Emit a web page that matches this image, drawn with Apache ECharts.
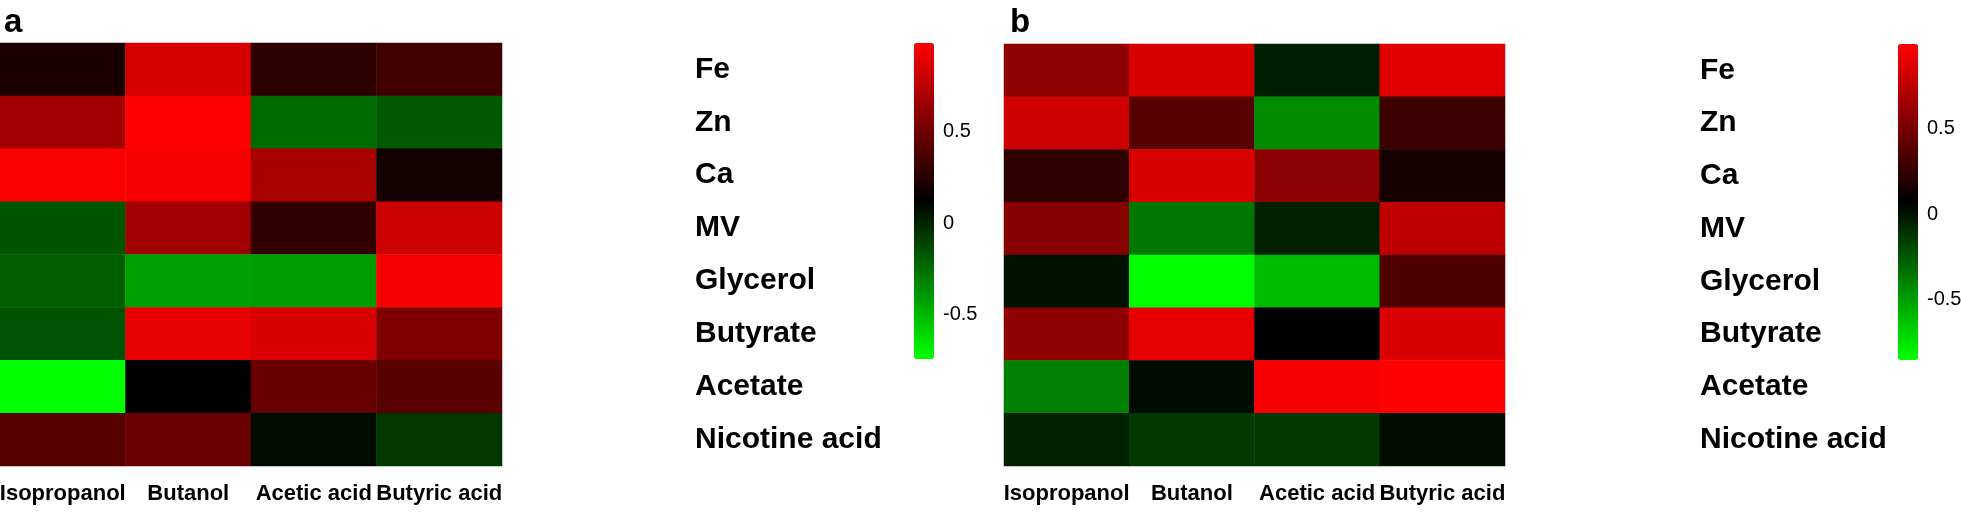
<!DOCTYPE html>
<html>
<head>
<meta charset="utf-8">
<script src="https://cdn.jsdelivr.net/npm/echarts@6/dist/echarts.min.js"></script>
<style>
html,body{margin:0;padding:0;background:#fff;}
#chart{width:1961px;height:516px;}
</style>
</head>
<body>
<div id="chart"></div>
<script>
const columns = ['Isopropanol', 'Butanol', 'Acetic acid', 'Butyric acid'];
const rows = ['Fe', 'Zn', 'Ca', 'MV', 'Glycerol', 'Butyrate', 'Acetate', 'Nicotine acid'];
const colorbarTicks = [-0.5, 0, 0.5];

// panel a: one row per metabolite, values per column
const panelA = [
  [0.21, 0.84, 0.27, 0.34],
  [0.66, 0.98, -0.24, -0.18],
  [0.97, 0.96, 0.69, 0.19],
  [-0.17, 0.66, 0.29, 0.81],
  [-0.20, -0.42, -0.41, 0.95],
  [-0.16, 0.90, 0.85, 0.55],
  [-0.74, 0.12, 0.47, 0.42],
  [0.41, 0.48, 0.08, -0.07]
];
const panelARange = [-0.74, 0.98];

// panel b
const panelB = [
  [0.59, 0.86, -0.04, 0.88],
  [0.82, 0.38, -0.43, 0.29],
  [0.24, 0.85, 0.57, 0.15],
  [0.55, -0.36, -0.05, 0.76],
  [0.00, -0.85, -0.61, 0.36],
  [0.59, 0.90, 0.07, 0.85],
  [-0.39, 0.03, 0.97, 0.99],
  [-0.05, -0.14, -0.14, 0.02]
];
const panelBRange = [-0.85, 0.99];

const rampColors = ['#00ff00', '#000000', '#ff0000'];

function toCells(matrix) {
  const out = [];
  matrix.forEach((r, yi) => r.forEach((v, xi) => out.push([xi, yi, v])));
  return out;
}

const sans = "'Liberation Sans', Arial, sans-serif";

function catX(gridIndex) {
  return {
    type: 'category', gridIndex, data: columns,
    axisLine: {show: false}, axisTick: {show: false}, splitLine: {show: false},
    axisLabel: {color: '#000', fontFamily: sans, fontWeight: 'bold', fontSize: 22, margin: 17, interval: 0, hideOverlap: false}
  };
}
function catY(gridIndex, margin) {
  return {
    type: 'category', gridIndex, data: rows, inverse: true, position: 'right',
    axisLine: {show: false}, axisTick: {show: false}, splitLine: {show: false},
    axisLabel: {color: '#000', fontFamily: sans, fontWeight: 'bold', fontSize: 30, margin, align: 'left', interval: 0}
  };
}
function barX(gridIndex) {
  return {type: 'value', gridIndex, show: false, min: 0, max: 1};
}
function barY(gridIndex, range) {
  return {
    type: 'value', gridIndex, position: 'right', min: range[0], max: range[1],
    axisLine: {show: false}, axisTick: {show: false}, splitLine: {show: false},
    axisLabel: {color: '#000', fontFamily: sans, fontSize: 20, margin: 9, customValues: colorbarTicks,
      formatter: v => String(v)}
  };
}

const chart = echarts.init(document.getElementById('chart'), null, {renderer: 'canvas'});
chart.setOption({
  backgroundColor: '#fff',
  animation: false,
  title: [
    {text: 'a', left: 4, top: 6, padding: 0, textStyle: {fontFamily: sans, fontWeight: 'bold', fontSize: 33, color: '#000'}},
    {text: 'b', left: 1010, top: 6, padding: 0, textStyle: {fontFamily: sans, fontWeight: 'bold', fontSize: 33, color: '#000'}}
  ],
  grid: [
    {left: 0, top: 43, width: 502, height: 423, outerBoundsMode: 'none', containLabel: false},
    {left: 1004, top: 44, width: 501, height: 422, outerBoundsMode: 'none', containLabel: false},
    {left: 914, top: 43, width: 20, height: 316, outerBoundsMode: 'none', containLabel: false},
    {left: 1898, top: 44, width: 20, height: 316, outerBoundsMode: 'none', containLabel: false}
  ],
  xAxis: [catX(0), catX(1), barX(2), barX(3)],
  yAxis: [catY(0, 193), catY(1, 195), barY(2, panelARange), barY(3, panelBRange)],
  visualMap: [
    {type: 'continuous', seriesIndex: 0, min: panelARange[0], max: panelARange[1], calculable: false,
      left: 914, top: 43, itemWidth: 20, itemHeight: 316, padding: 0, inRange: {color: rampColors}},
    {type: 'continuous', seriesIndex: 1, min: panelBRange[0], max: panelBRange[1], calculable: false,
      left: 1898, top: 44, itemWidth: 20, itemHeight: 316, padding: 0, inRange: {color: rampColors}}
  ],
  series: [
    {type: 'heatmap', xAxisIndex: 0, yAxisIndex: 0, data: toCells(panelA), itemStyle: {borderWidth: 0}, emphasis: {disabled: true}},
    {type: 'heatmap', xAxisIndex: 1, yAxisIndex: 1, data: toCells(panelB), itemStyle: {borderWidth: 0}, emphasis: {disabled: true}}
  ]
});
</script>
</body>
</html>
